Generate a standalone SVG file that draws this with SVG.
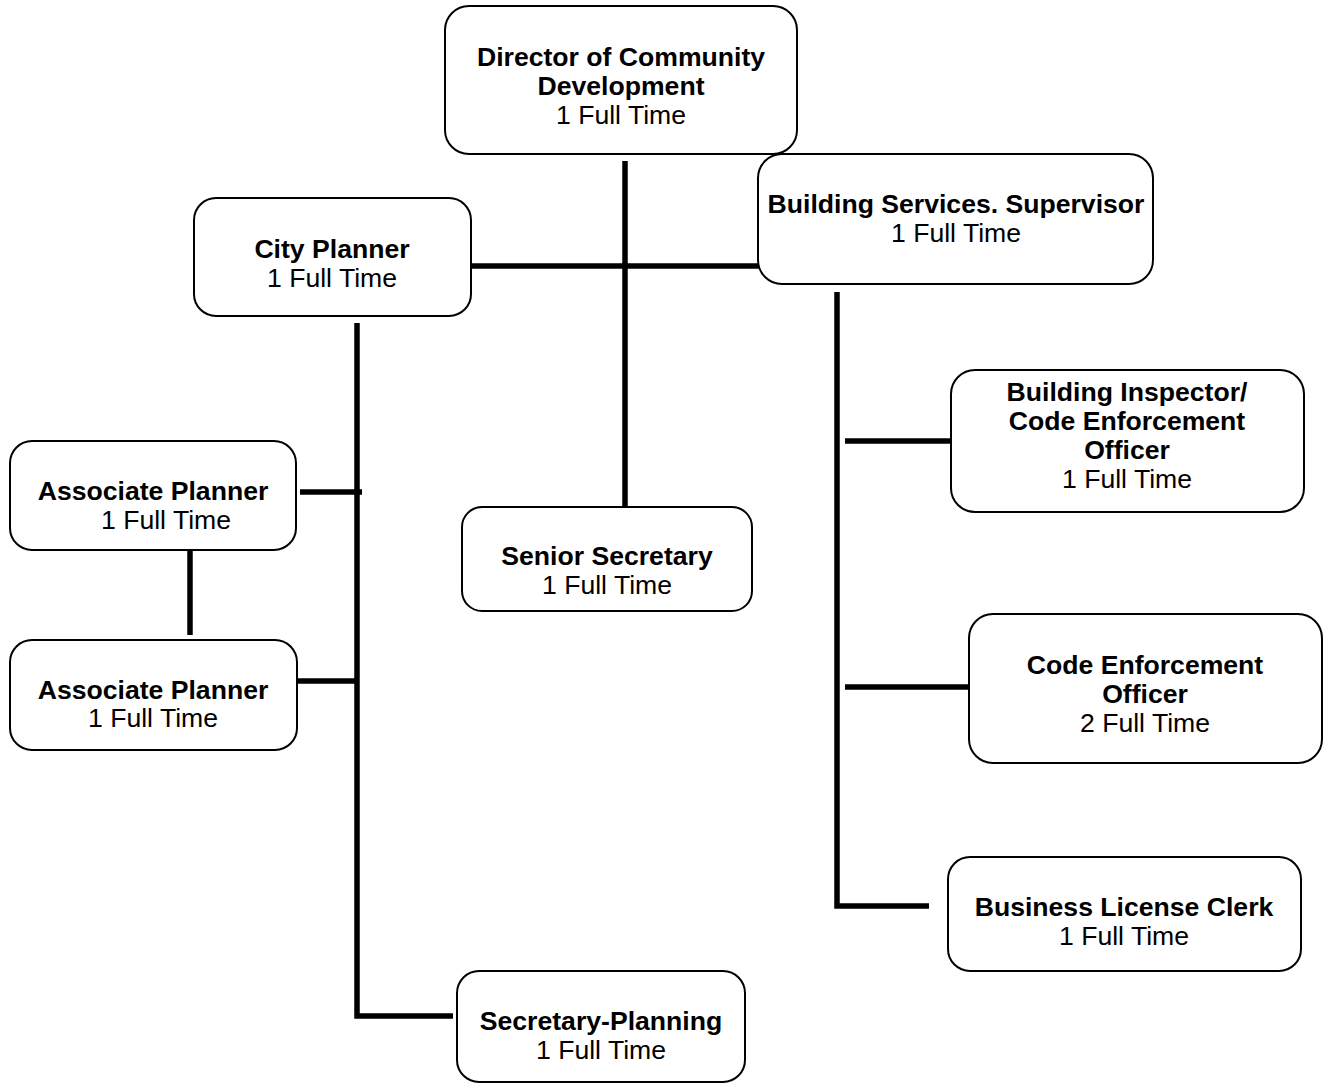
<svg xmlns="http://www.w3.org/2000/svg" width="1333" height="1084" viewBox="0 0 1333 1084">
<style>
.box{fill:#fff;stroke:#000;stroke-width:2}
.t{font-family:"Liberation Sans",Arial,sans-serif;font-size:26.6px;text-anchor:middle;fill:#000}
.b{font-weight:bold}
.c{stroke:#000;stroke-width:5.5;fill:none;stroke-linecap:butt}
</style>
<rect width="1333" height="1084" fill="#fff"/>
<g id="connectors">
<line class="c" x1="625" y1="161" x2="625" y2="507"/>
<line class="c" x1="468" y1="266" x2="760" y2="266"/>
<polyline class="c" points="837,292 837,906 929,906"/>
<line class="c" x1="845" y1="441" x2="951" y2="441"/>
<line class="c" x1="845" y1="687" x2="969" y2="687"/>
<polyline class="c" points="357,323 357,1016 453,1016"/>
<line class="c" x1="300" y1="492" x2="362" y2="492"/>
<line class="c" x1="298" y1="681" x2="357" y2="681"/>
<line class="c" x1="190" y1="550" x2="190" y2="635"/>
</g>
<g id="director">
<rect class="box" x="445" y="6" width="352" height="148" rx="24"/>
<text class="t b" x="621" y="66">Director of Community</text>
<text class="t b" x="621" y="95">Development</text>
<text class="t" x="621" y="124">1 Full Time</text>
</g>
<g id="building-services-supervisor">
<rect class="box" x="758" y="154" width="395" height="130" rx="24"/>
<text class="t b" x="956" y="213">Building Services. Supervisor</text>
<text class="t" x="956" y="242">1 Full Time</text>
</g>
<g id="city-planner">
<rect class="box" x="194" y="198" width="277" height="118" rx="22"/>
<text class="t b" x="332" y="258">City Planner</text>
<text class="t" x="332" y="287">1 Full Time</text>
</g>
<g id="building-inspector">
<rect class="box" x="951" y="370" width="353" height="142" rx="24"/>
<text class="t b" x="1127" y="401">Building Inspector/</text>
<text class="t b" x="1127" y="430">Code Enforcement</text>
<text class="t b" x="1127" y="459">Officer</text>
<text class="t" x="1127" y="488">1 Full Time</text>
</g>
<g id="associate-planner-1">
<rect class="box" x="10" y="441" width="286" height="109" rx="22"/>
<text class="t b" x="153" y="500">Associate Planner</text>
<text class="t" x="166" y="529">1 Full Time</text>
</g>
<g id="senior-secretary">
<rect class="box" x="462" y="507" width="290" height="104" rx="20"/>
<text class="t b" x="607" y="565">Senior Secretary</text>
<text class="t" x="607" y="594">1 Full Time</text>
</g>
<g id="associate-planner-2">
<rect class="box" x="10" y="640" width="287" height="110" rx="22"/>
<text class="t b" x="153" y="699">Associate Planner</text>
<text class="t" x="153" y="727">1 Full Time</text>
</g>
<g id="code-enforcement-officer">
<rect class="box" x="969" y="614" width="353" height="149" rx="24"/>
<text class="t b" x="1145" y="674">Code Enforcement</text>
<text class="t b" x="1145" y="703">Officer</text>
<text class="t" x="1145" y="732">2 Full Time</text>
</g>
<g id="business-license-clerk">
<rect class="box" x="948" y="857" width="353" height="114" rx="22"/>
<text class="t b" x="1124" y="916">Business License Clerk</text>
<text class="t" x="1124" y="945">1 Full Time</text>
</g>
<g id="secretary-planning">
<rect class="box" x="457" y="971" width="288" height="111" rx="22"/>
<text class="t b" x="601" y="1030">Secretary-Planning</text>
<text class="t" x="601" y="1059">1 Full Time</text>
</g>
</svg>
